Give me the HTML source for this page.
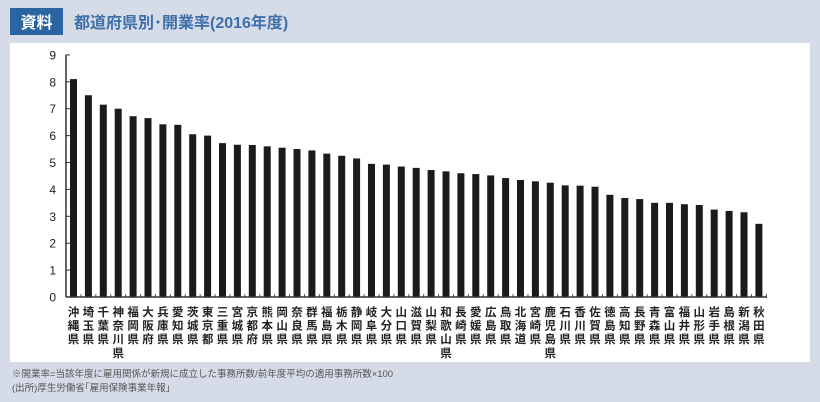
<!DOCTYPE html>
<html><head><meta charset="utf-8"><style>
html,body{margin:0;padding:0;}
body{width:820px;height:402px;background:#d6dbe8;position:relative;overflow:hidden;font-family:"Liberation Sans","Noto Sans CJK JP",sans-serif;}
</style></head><body>
<svg width="820" height="402" xmlns="http://www.w3.org/2000/svg" style="position:absolute;left:0;top:0">
<rect x="10" y="43" width="800" height="319" fill="#ffffff"/>
<rect x="10" y="8" width="53" height="27" fill="#2b64a2"/>
<text x="36.5" y="28" text-anchor="middle" font-size="16" font-weight="bold" fill="#fff" font-family="Liberation Sans, Noto Sans CJK JP, sans-serif">資料</text>
<text x="74" y="28" font-size="16" font-weight="bold" fill="#3d6fa9" font-family="Liberation Sans, Noto Sans CJK JP, sans-serif">都道府県別･開業率(2016年度)</text>
<g id="chart"></g>
<text x="12" y="377" font-size="9.5" fill="#555" font-family="Liberation Sans, Noto Sans CJK JP, sans-serif">※開業率=当該年度に雇用関係が新規に成立した事務所数/前年度平均の適用事務所数×100</text>
<text x="12" y="391" font-size="9.5" fill="#555" font-family="Liberation Sans, Noto Sans CJK JP, sans-serif">(出所)厚生労働省｢雇用保険事業年報｣</text>
</svg>
<script>
var vals=[8.1,7.5,7.15,7.0,6.72,6.65,6.42,6.4,6.05,6.0,5.72,5.66,5.65,5.6,5.55,5.5,5.45,5.33,5.25,5.15,4.95,4.92,4.85,4.8,4.72,4.67,4.6,4.57,4.52,4.42,4.35,4.3,4.25,4.15,4.14,4.1,3.8,3.68,3.64,3.5,3.5,3.45,3.42,3.25,3.2,3.15,2.72];
var labs=["沖縄県","埼玉県","千葉県","神奈川県","福岡県","大阪府","兵庫県","愛知県","茨城県","東京都","三重県","宮城県","京都府","熊本県","岡山県","奈良県","群馬県","福島県","栃木県","静岡県","岐阜県","大分県","山口県","滋賀県","山梨県","和歌山県","長崎県","愛媛県","広島県","鳥取県","北海道","宮崎県","鹿児島県","石川県","香川県","佐賀県","徳島県","高知県","長野県","青森県","富山県","福井県","山形県","岩手県","島根県","新潟県","秋田県"];
var ns="http://www.w3.org/2000/svg",g=document.getElementById("chart");
function el(t,a,txt){var e=document.createElementNS(ns,t);for(var k in a)e.setAttribute(k,a[k]);if(txt!=null)e.textContent=txt;g.appendChild(e);return e;}
var y0=297,u=26.9,x0=66;
for(var i=0;i<=9;i++){var y=y0-i*u;el("text",{x:56,y:y+4.5,"text-anchor":"end","font-size":"12","fill":"#222","font-family":"Liberation Sans, sans-serif"},i);el("line",{x1:x0,x2:x0+4,y1:y,y2:y,stroke:"#333","stroke-width":"1"});}
el("line",{x1:x0,x2:x0,y1:y0-9*u,y2:y0,stroke:"#333","stroke-width":"1.5"});
for(var j=0;j<vals.length;j++){var c=73.5+j*14.9;var h=vals[j]*u;
el("rect",{x:c-3.5,y:y0-h,width:7,height:h,fill:"#1e1a1a"});
el("line",{x1:c+7.45,x2:c+7.45,y1:y0,y2:y0-3,stroke:"#555","stroke-width":"1"});
var s=labs[j];for(var k=0;k<s.length;k++)el("text",{x:c,y:316+k*13.6,"text-anchor":"middle","font-size":"11.5","fill":"#222","font-weight":"bold","font-family":"Noto Sans CJK JP, sans-serif"},s[k]);}
el("line",{x1:x0,x2:767,y1:y0,y2:y0,stroke:"#333","stroke-width":"1.5"});
</script>
</body></html>
